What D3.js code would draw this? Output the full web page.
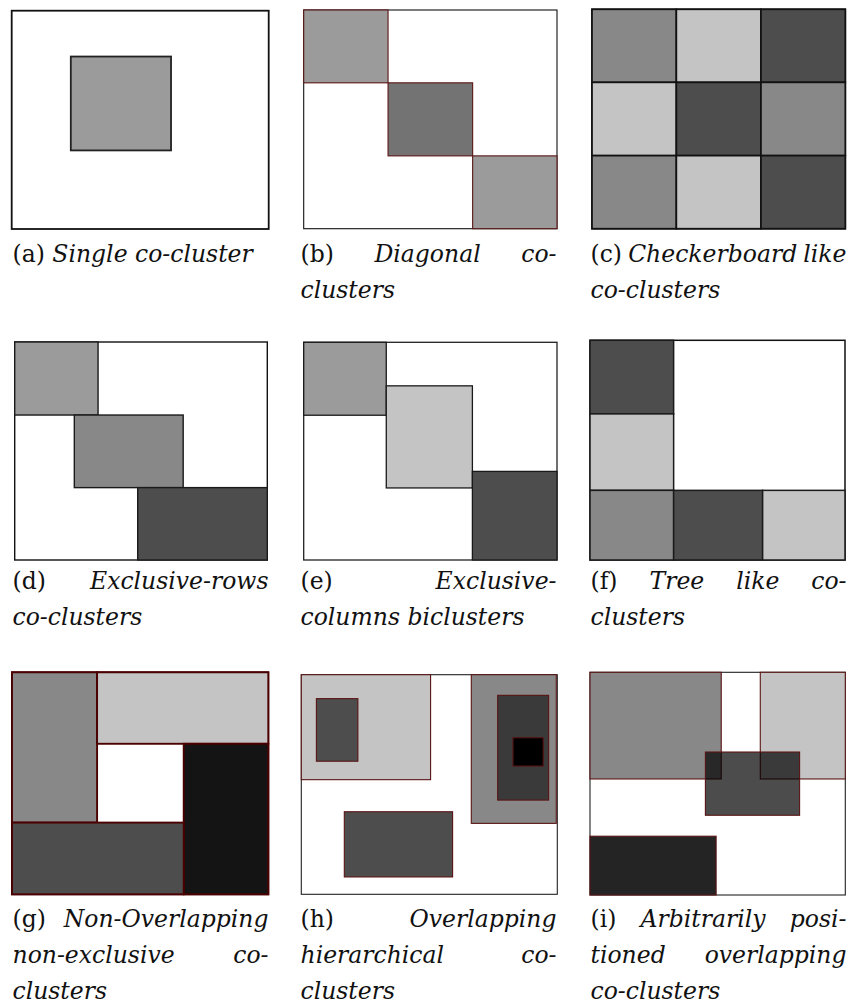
<!DOCTYPE html>
<html>
<head>
<meta charset="utf-8">
<script src="https://cdn.jsdelivr.net/npm/d3@7"></script>
<style>
  body { margin: 0; background: #fff; }
  .word { font-family: "DejaVu Serif", "Liberation Serif", serif; font-size: 23.5px; fill: #111; }
  .word.it { font-style: italic; }
</style>
</head>
<body>
<div id="chart"></div>
<script>
// Co-cluster blocks, in percent of the matrix width / height:
// [colStart, colEnd, rowStart, rowEnd, tone]
const singleBlocks = [[23, 62, 21, 64, "grey"]];

const diagonalBlocks = [
    [0, 33.3, 0, 33.3, "grey"],
    [33.3, 66.7, 33.3, 66.7, "slate"],
    [66.7, 100, 66.7, 100, "grey"]
];

const checkerBlocks = [
    [0, 33.3, 0, 33.3, "mid"], [33.3, 66.7, 0, 33.3, "light"], [66.7, 100, 0, 33.3, "dark"],
    [0, 33.3, 33.3, 66.7, "light"], [33.3, 66.7, 33.3, 66.7, "dark"], [66.7, 100, 33.3, 66.7, "mid"],
    [0, 33.3, 66.7, 100, "mid"], [33.3, 66.7, 66.7, 100, "light"], [66.7, 100, 66.7, 100, "dark"]
];

const exclusiveRowBlocks = [
    [0, 33, 0, 33.5, "grey"],
    [23.6, 66.7, 33.5, 66.8, "mid"],
    [48.7, 100, 66.8, 100, "dark"]
];

const exclusiveColBlocks = [
    [0, 32.6, 0, 33.5, "grey"],
    [32.6, 66.6, 20, 66.9, "light"],
    [66.6, 100, 59.3, 100, "dark"]
];

const treeBlocks = [
    [0, 32.8, 0, 33.5, "dark"],
    [0, 32.8, 33.5, 68.3, "light"],
    [0, 32.8, 68.3, 100, "mid"],
    [32.8, 67.7, 68.3, 100, "dark"],
    [67.7, 100, 68.3, 100, "light"]
];

const nonOverlapBlocks = [
    [0, 33.2, 0, 67.7, "mid"],
    [33.2, 100, 0, 32.2, "light"],
    [67, 100, 32.2, 100, "ink"],
    [0, 67, 67.7, 100, "dark"]
];

const hierarchicalBlocks = [
    [0, 50.5, 0, 47.8, "light"],
    [5.9, 22.1, 10.9, 39.4, "dark"],
    [66.4, 99.6, 0, 67.7, "mid"],
    [76.7, 96.6, 9.4, 57.1, "darker"],
    [82.7, 94.5, 28.7, 41.6, "black"],
    [16.8, 59.1, 62.4, 92.1, "dark"]
];

const arbitraryBlocks = [
    [0, 51.4, 0, 47.9, "mid"],
    [66.7, 100, 0, 47.9, "light"],
    [45.2, 82.1, 35.8, 64.2, "shade"],
    [0, 49.4, 73.6, 100, "coal"]
];

const captionLabels = ["(a)", "(b)", "(c)", "(d)", "(e)", "(f)", "(g)", "(h)", "(i)"];

const captionLines = [
    ["Single co-cluster"],
    ["Diagonal co-", "clusters"],
    ["Checkerboard like", "co-clusters"],
    ["Exclusive-rows", "co-clusters"],
    ["Exclusive-", "columns biclusters"],
    ["Tree like co-", "clusters"],
    ["Non-Overlapping", "non-exclusive co-", "clusters"],
    ["Overlapping", "hierarchical co-", "clusters"],
    ["Arbitrarily posi-", "tioned overlapping", "co-clusters"]
];

const panelBlocks = [singleBlocks, diagonalBlocks, checkerBlocks,
    exclusiveRowBlocks, exclusiveColBlocks, treeBlocks,
    nonOverlapBlocks, hierarchicalBlocks, arbitraryBlocks];

// layout: frame box of each matrix (px) and the line styles
const frames = [
    [11.7, 10.7, 257, 218.3], [303.7, 10, 253.3, 218.7], [592, 9.3, 253.3, 219.4],
    [14.7, 342, 252.6, 218], [303.7, 342.3, 253.3, 217.7], [590, 340.3, 255, 219.7],
    [12, 672.3, 256.3, 222], [301.3, 674.7, 256, 219.6], [590, 672.3, 255.3, 222.7]
];
const frameStroke = ["#111", "#111", "#111", "#111", "#222", "#111", "#4a0000", "#222", "#222"];
const blockStroke = ["#222", "#5a1414", "#111", "#1a1a1a", "#1a1a1a", "#1a1a1a", "#4a0000", "#5a1414", "#5a1414"];
const strokeWidth = [1.8, 1.1, 1.7, 1.4, 1.3, 1.5, 1.9, 1.1, 1.1];

const textLeft = [12.5, 300.5, 590.5];
const textWidth = 256;
const rowBaseline = [262, 589, 926.5];
const lineHeight = 36;

const width = 849;
const height = 1005;

const tone = d3.scaleOrdinal()
    .domain(["grey", "mid", "slate", "light", "dark", "darker", "ink", "black", "coal", "shade"])
    .range(["#9b9b9b", "#888888", "#737373", "#c4c4c4", "#4d4d4d", "#3a3a3a", "#141414", "#000000", "#242424", "rgba(0,0,0,0.7)"]);

const svg = d3.select("#chart")
    .append("svg")
    .attr("width", width)
    .attr("height", height);

// width of one inter-word space in the italic caption font
const probe = svg.append("text").attr("class", "word it").text("a a");
const probe2 = svg.append("text").attr("class", "word it").text("aa");
const spaceWidth = probe.node().getComputedTextLength() - probe2.node().getComputedTextLength();
probe.remove();
probe2.remove();

panelBlocks.forEach(function(blocks, i) {
    const f = frames[i];
    const x = d3.scaleLinear().domain([0, 100]).range([f[0], f[0] + f[2]]);
    const y = d3.scaleLinear().domain([0, 100]).range([f[1], f[1] + f[3]]);

    const g = svg.append("g").attr("class", "panel");

    // matrix frame
    g.append("rect")
        .attr("x", x(0))
        .attr("y", y(0))
        .attr("width", x(100) - x(0))
        .attr("height", y(100) - y(0))
        .attr("fill", "#fff")
        .attr("stroke", frameStroke[i])
        .attr("stroke-width", strokeWidth[i]);

    // co-clusters
    g.selectAll("rect.block")
        .data(blocks)
        .enter()
        .append("rect")
            .attr("class", "block")
            .attr("x", function(d) { return x(d[0]); })
            .attr("y", function(d) { return y(d[2]); })
            .attr("width", function(d) { return x(d[1]) - x(d[0]); })
            .attr("height", function(d) { return y(d[3]) - y(d[2]); })
            .attr("fill", function(d) { return tone(d[4]); })
            .attr("stroke", blockStroke[i])
            .attr("stroke-width", strokeWidth[i]);

    // caption, justified like the LaTeX original (last line ragged)
    const left = textLeft[i % 3];
    const base = rowBaseline[Math.floor(i / 3)];
    const lines = captionLines[i];

    lines.forEach(function(line, li) {
        let words = line.split(" ").map(function(w) { return {text: w, it: true}; });
        if (li == 0) words.unshift({text: captionLabels[i], it: false});

        const nodes = words.map(function(w) {
            return svg.append("text")
                .attr("class", w.it ? "word it" : "word")
                .attr("y", base + li * lineHeight)
                .text(w.text);
        });
        const widths = nodes.map(function(n) { return n.node().getComputedTextLength(); });
        const total = d3.sum(widths);

        let gap = spaceWidth;
        if (li < lines.length - 1 && words.length > 1) {
            gap = (textWidth - total) / (words.length - 1);
        }
        let cx = left;
        nodes.forEach(function(n, k) {
            n.attr("x", cx);
            cx += widths[k] + gap;
        });
    });
});
</script>
</body>
</html>
